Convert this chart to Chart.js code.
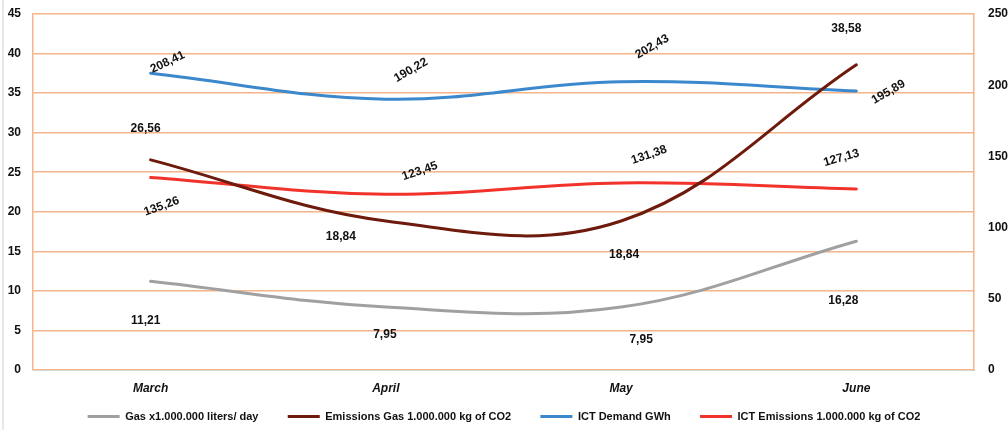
<!DOCTYPE html>
<html>
<head>
<meta charset="utf-8">
<script src="https://cdn.jsdelivr.net/npm/chart.js@4.4.1/dist/chart.umd.min.js"></script>
<style>
  html, body { margin: 0; padding: 0; background: #fff; }
  #wrap {
    width: 1008px; height: 430px;
    background: linear-gradient(to right, #fff 2px, #e8e8e8 2px, #e8e8e8 4px, #fff 4px);
  }
</style>
</head>
<body>
<div id="wrap"><canvas id="chart"></canvas></div>
<script>
const months = ['March', 'April', 'May', 'June'];
const gasLiters = [11.21, 7.95, 7.95, 16.28];
const gasEmissions = [26.56, 18.84, 18.84, 38.58];
const ictDemand = [208.41, 190.22, 202.43, 195.89];
const ictEmissions = [135.26, 123.45, 131.38, 127.13];

const FONT = "'Liberation Sans', Arial, sans-serif";
const ORANGE = '#F6B48A';

// where each value label sits relative to its point (px) and its tilt (deg)
const labelPlacement = [
  { dx: [-5, -1, 20, -13], dy: [39, 28, 33, 59], rot: [0, 0, 0, 0] },
  { dx: [-5, -45, 3, -10], dy: [-31, 16, 34, -36], rot: [0, 0, 0, 0] },
  { dx: [17, 25, 31, 32], dy: [-11, -29, -35, 1], rot: [-25, -30, -30, -30] },
  { dx: [11, 34, 28, -15], dy: [29, -23, -28, -31], rot: [-20, -19, -19, -16] }
];

const valueLabels = {
  id: 'valueLabels',
  afterDatasetsDraw(chart) {
    const ctx = chart.ctx;
    chart.data.datasets.forEach((ds, i) => {
      const meta = chart.getDatasetMeta(i);
      const p = labelPlacement[i];
      meta.data.forEach((pt, j) => {
        ctx.save();
        ctx.translate(pt.x + p.dx[j], pt.y + p.dy[j]);
        ctx.rotate(p.rot[j] * Math.PI / 180);
        ctx.font = 'bold 12px ' + FONT;
        ctx.fillStyle = '#111';
        ctx.textAlign = 'center';
        ctx.textBaseline = 'middle';
        ctx.fillText(ds.data[j].toFixed(2).replace('.', ','), 0, 0);
        ctx.restore();
      });
    });
  }
};

function line(label, data, color, axis) {
  return {
    label: label,
    data: data,
    yAxisID: axis,
    borderColor: color,
    backgroundColor: color,
    borderWidth: 3,
    pointRadius: 0,
    tension: 0.38,
    borderCapStyle: 'round'
  };
}

// y axes: fixed width, and don't let tick padding push the plot down
const fitY = w => s => { s.width = w; s.paddingTop = 6; s.paddingBottom = 6; };

new Chart(document.getElementById('chart'), {
  type: 'line',
  data: {
    labels: months,
    datasets: [
      line('Gas x1.000.000 liters/ day', gasLiters, '#A0A0A0', 'y'),
      line('Emissions Gas 1.000.000 kg of CO2', gasEmissions, '#6E1B0D', 'y'),
      line('ICT Demand GWh', ictDemand, '#3B88CC', 'y1'),
      line('ICT Emissions 1.000.000 kg of CO2', ictEmissions, '#F2332B', 'y1')
    ]
  },
  options: {
    responsive: true,
    maintainAspectRatio: false,
    animation: false,
    layout: { padding: { top: 14, left: 0, right: 0, bottom: 0 } },
    plugins: {
      legend: {
        position: 'bottom',
        maxHeight: 33,
        labels: {
          usePointStyle: true,
          pointStyle: 'line',
          pointStyleWidth: 32,
          padding: 14,
          color: '#111',
          font: { family: FONT, size: 11, weight: 'bold' },
          generateLabels(chart) {
            const items = Chart.defaults.plugins.legend.labels.generateLabels(chart);
            items.forEach((it, i) => { if (i < items.length - 1) it.text += '     '; });
            return items;
          }
        }
      },
      tooltip: { enabled: false }
    },
    scales: {
      x: {
        offset: true,
        grid: { display: false, drawTicks: false },
        border: { color: '#D9D9D9', width: 1 },
        ticks: {
          padding: 11,
          maxRotation: 0,
          color: '#111',
          font: { family: FONT, size: 12, weight: 'bold', style: 'italic' }
        },
        afterFit: s => { s.height = 27; }
      },
      y: {
        position: 'left',
        min: 0,
        max: 45,
        ticks: {
          stepSize: 5,
          padding: 12,
          color: '#111',
          font: { family: FONT, size: 12, weight: 'bold' }
        },
        grid: { color: ORANGE, lineWidth: 1.5, drawTicks: false },
        border: { color: ORANGE, width: 1.5 },
        afterFit: fitY(33)
      },
      y1: {
        position: 'right',
        min: 0,
        max: 250,
        ticks: {
          stepSize: 50,
          padding: 14,
          color: '#111',
          font: { family: FONT, size: 12, weight: 'bold' }
        },
        grid: { display: false, drawTicks: false },
        border: { color: ORANGE, width: 1.5 },
        afterFit: fitY(34)
      }
    }
  },
  plugins: [valueLabels]
});
</script>
</body>
</html>
